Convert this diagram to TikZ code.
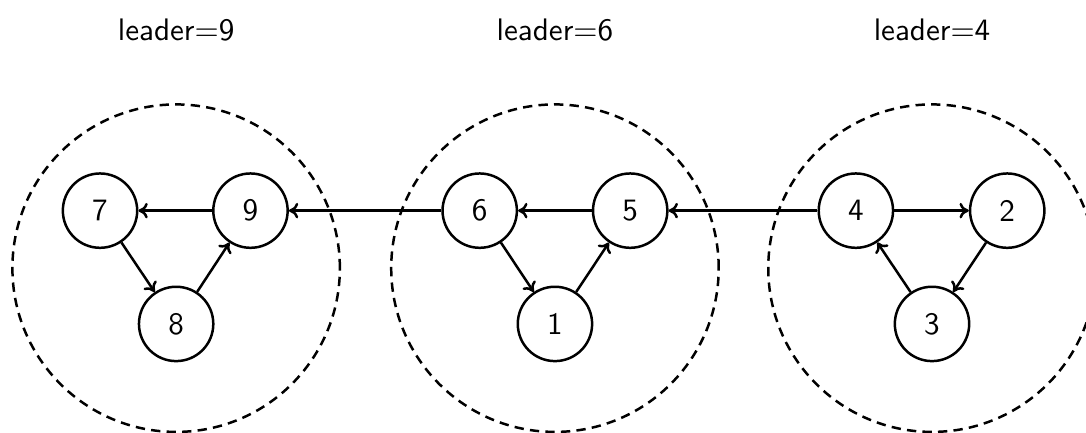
\documentclass[tikz,border=0pt]{standalone}
\usepackage{tikz}
\usetikzlibrary{positioning,arrows.meta}
\renewcommand{\familydefault}{\sfdefault}

\begin{document}
\begin{tikzpicture}[auto, node distance=1cm,
    vertex/.style={draw, circle, thick, minimum size=0.84cm, inner sep=0pt},
    group/.style={draw, circle, thick, dash pattern=on 3pt off 2pt, minimum size=3.7cm},
    edge/.style={thick, -{To[length=3pt,width=5pt]}}]
    \useasboundingbox (0,0) rectangle (12.27,4.89);

    % Groups
    \node [group] (left) at (1.99,1.86) {};
    \node [group] (middle) at (6.27,1.86) {};
    \node [group] (right) at (10.53,1.86) {};

    % Labels
    \node (lead9) at (1.99,4.55) {leader=9};
    \node (lead6) at (6.27,4.55) {leader=6};
    \node (lead4) at (10.53,4.55) {leader=4};

    % Left group
    \node [vertex] (n7) at (1.13,2.51) {7};
    \node [vertex] (n9) at (2.83,2.51) {9};
    \node [vertex] (n8) at (1.99,1.23) {8};
    \draw [edge] (n9) -- (n7);
    \draw [edge] (n7) -- (n8);
    \draw [edge] (n8) -- (n9);

    % Middle group
    \node [vertex] (n6) at (5.42,2.51) {6};
    \node [vertex] (n5) at (7.12,2.51) {5};
    \node [vertex] (n1) at (6.27,1.23) {1};
    \draw [edge] (n5) -- (n6);
    \draw [edge] (n6) -- (n1);
    \draw [edge] (n1) -- (n5);

    % Right group
    \node [vertex] (n4) at (9.67,2.51) {4};
    \node [vertex] (n2) at (11.38,2.51) {2};
    \node [vertex] (n3) at (10.53,1.23) {3};
    \draw [edge] (n4) -- (n2);
    \draw [edge] (n2) -- (n3);
    \draw [edge] (n3) -- (n4);

    % Between groups
    \draw [edge] (n6) -- (n9);
    \draw [edge] (n4) -- (n5);

\end{tikzpicture}
\end{document}
